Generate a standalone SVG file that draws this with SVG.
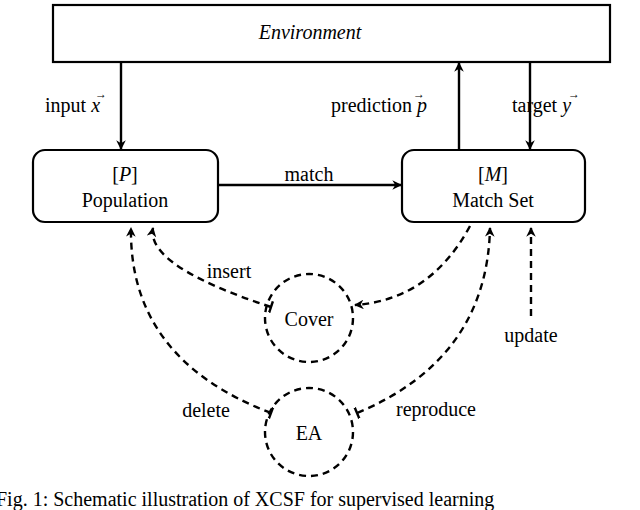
<svg xmlns="http://www.w3.org/2000/svg" width="640" height="510" viewBox="0 0 640 510">
<style>
text{font-family:"Liberation Serif","Times New Roman",serif;font-size:20px;fill:#000}
.v{font-size:12px}
.b{fill:#fff;stroke:#000;stroke-width:2.2}
.s{fill:none;stroke:#000;stroke-width:2.4}
.d{fill:none;stroke:#000;stroke-width:2.4;stroke-dasharray:7,5}
</style>
<defs>
<marker id="a" viewBox="0 0 10 10" refX="9" refY="5" markerWidth="4" markerHeight="4" orient="auto"><path d="M0,0 L10,5 L0,10 L3,5 Z" fill="#000"/></marker>
<marker id="t" viewBox="0 0 4 10" refX="2" refY="5" markerWidth="2.5" markerHeight="5" orient="auto"><path d="M2,0 L2,10" stroke="#000" stroke-width="2"/></marker>
</defs>
<g id="env"><rect class="b" x="53" y="5" width="557" height="57"/><text x="310" y="39" text-anchor="middle" font-style="italic">Environment</text></g>
<g id="pop"><rect class="b" x="33" y="150" width="185" height="72" rx="12"/><text x="125" y="181" text-anchor="middle">[<tspan font-style="italic">P</tspan>]</text><text x="125" y="207" text-anchor="middle">Population</text></g>
<g id="ms"><rect class="b" x="402" y="150" width="183" height="72" rx="12"/><text x="493" y="181" text-anchor="middle">[<tspan font-style="italic">M</tspan>]</text><text x="493" y="207" text-anchor="middle">Match Set</text></g>
<g id="cover"><circle class="d" cx="309" cy="318" r="44"/><text x="309" y="326" text-anchor="middle">Cover</text></g>
<g id="ea"><circle class="d" cx="309" cy="432" r="44"/><text x="309" y="440" text-anchor="middle">EA</text></g>
<g id="connectors">
<line class="s" x1="121" y1="62" x2="121" y2="149" marker-end="url(#a)"/>
<line class="s" x1="459" y1="150" x2="459" y2="63" marker-end="url(#a)"/>
<line class="s" x1="530" y1="62" x2="530" y2="149" marker-end="url(#a)"/>
<line class="s" x1="218" y1="185" x2="401" y2="185" marker-end="url(#a)"/>
<path class="d" d="M271,413 Q129,359 131,228" marker-start="url(#t)" marker-end="url(#a)"/>
<path class="d" d="M271,307 Q146,266 153,228" marker-start="url(#t)" marker-end="url(#a)"/>
<path class="d" d="M470,226 Q430,300 355,305" marker-end="url(#a)"/>
<path class="d" d="M357,413 Q487,359 490,228" marker-start="url(#t)" marker-end="url(#a)"/>
<line class="d" x1="531" y1="316" x2="531" y2="228" marker-end="url(#a)"/>
</g>
<g id="labels">
<text x="45" y="112">input <tspan font-style="italic">x</tspan></text><text class="v" x="95" y="98">→</text>
<text x="331" y="112">prediction <tspan font-style="italic">p</tspan></text><text class="v" x="413" y="98">→</text>
<text x="512" y="112">target <tspan font-style="italic">y</tspan></text><text class="v" x="568" y="98">→</text>
<text x="309" y="181" text-anchor="middle">match</text>
<text x="229" y="278" text-anchor="middle">insert</text>
<text x="206" y="417" text-anchor="middle">delete</text>
<text x="436" y="416" text-anchor="middle">reproduce</text>
<text x="531" y="342" text-anchor="middle">update</text>
<text x="-4" y="506" font-size="22">Fig. 1: Schematic illustration of XCSF for supervised learning</text>
</g>
</svg>
